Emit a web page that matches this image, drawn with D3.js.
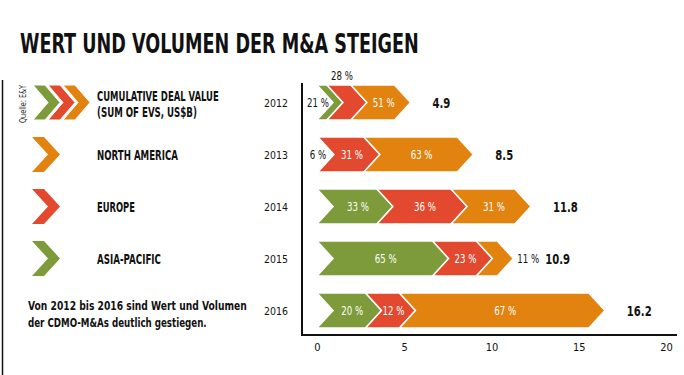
<!DOCTYPE html>
<html><head><meta charset="utf-8">
<script src="https://cdn.jsdelivr.net/npm/d3@7"></script>
<style>
html,body{margin:0;padding:0;background:#fff;}
svg{display:block;}
text{font-family:"DejaVu Sans Condensed","DejaVu Sans",sans-serif;}
</style></head>
<body>
<svg id="chart" width="684" height="375"></svg>
<script>
// ---- data ----
const years = ["2012", "2013", "2014", "2015", "2016"];
const totals = [4.9, 8.5, 11.8, 10.9, 16.2];
const asiaPacific = [21, 6, 33, 65, 20];
const europe = [28, 31, 36, 23, 12];
const northAmerica = [51, 63, 31, 11, 67];
const seriesNames = ["ASIA-PACIFIC", "EUROPE", "NORTH AMERICA"];
const seriesColors = ["#7d9b3a", "#e3492f", "#e2820f"];
const xTicks = [0, 5, 10, 15, 20];
const titleText = "WERT UND VOLUMEN DER M&A STEIGEN";
const sourceText = "Quelle: E&Y";
const legendTitle = ["CUMULATIVE DEAL VALUE", "(SUM OF EVS, US$B)"];
const noteText = ["Von 2012 bis 2016 sind Wert und Volumen", "der CDMO-M&As deutlich gestiegen."];

const seriesValues = [asiaPacific, europe, northAmerica];

const svg = d3.select("#chart");
const x = d3.scaleLinear().domain([0, 20]).range([317, 666]);
const y = d3.scaleBand().domain(years).range([76.5, 336.5]).paddingInner(0.327).paddingOuter(0.1635);
const bh = y.bandwidth();
const D = 16; // chevron depth

function chevron(back, front, top, h, d) {
  const mid = top + h / 2, bot = top + h;
  return [[back, top], [front, top], [front + d, mid], [front, bot], [back, bot], [back + d, mid]];
}
// condensed text: placed at (px,py), squeezed horizontally by factor f or to width w
function ctext(parent, px, py, str, f, w, rot) {
  const t = parent.append("text").attr("x", 0).attr("y", 0).text(str);
  const L = t.node().getComputedTextLength();
  const k = w != null ? w / L : f;
  t.attr("transform", `translate(${px},${py})` + (rot ? ` rotate(${rot})` : "") + ` scale(${k},1)`);
  return { t, width: L * k };
}

// title
ctext(svg.append("g").attr("font-size", 26).attr("font-weight", "bold").attr("fill", "#111"),
  20, 53, titleText, null, 399);

// left rule
svg.append("line").attr("x1", 2.5).attr("x2", 2.5).attr("y1", 80).attr("y2", 375)
  .attr("stroke", "#111").attr("stroke-width", 1.5);

// source
ctext(svg.append("g").attr("font-size", 9).attr("fill", "#222").attr("text-anchor", "middle"),
  26, 104, sourceText, null, 38, -90);

// legend icons
const iconX = 33;
const g0 = svg.append("g");
[0, 1, 2].forEach(i => {
  const top = y(years[0]);
  g0.append("polygon").attr("points", chevron(iconX + i * 15, iconX + i * 15 + 12, top, bh, 15).map(p => p.join(",")).join(" "))
    .attr("fill", seriesColors[i]).attr("stroke", "#fff").attr("stroke-width", 1);
});
[2, 1, 0].forEach((si, row) => {
  const top = y(years[row + 1]);
  svg.append("polygon").attr("points", chevron(iconX - 1, iconX + 11, top, bh, 16).map(p => p.join(",")).join(" "))
    .attr("fill", seriesColors[si]);
});

// legend texts
const lt = svg.append("g").attr("font-weight", "bold").attr("font-size", 13.5).attr("fill", "#111");
ctext(lt, 97, y(years[0]) + bh / 2 - 2, legendTitle[0], null, 122);
ctext(lt, 97, y(years[0]) + bh / 2 + 14, legendTitle[1], null, 100);
const legendWidths = [64, 38, 81];
[2, 1, 0].forEach((si, row) => {
  ctext(lt, 97, y(years[row + 1]) + bh / 2 + 5.5, seriesNames[si], null, legendWidths[si]);
});
const nt = svg.append("g").attr("font-weight", "bold").attr("font-size", 12.5).attr("fill", "#111");
ctext(nt, 28, y(years[4]) + bh / 2 - 0.5, noteText[0], null, 219);
ctext(nt, 28, y(years[4]) + bh / 2 + 16.5, noteText[1], null, 179);

// year labels
const yl = svg.append("g").attr("font-size", 11).attr("fill", "#111").attr("text-anchor", "end");
years.forEach(d => ctext(yl, 288, y(d) + bh / 2 + 4.5, d, 0.95));

// bars
const barsG = svg.append("g");
years.forEach((yr, bi) => {
  const total = totals[bi];
  const top = y(yr);
  const mid = top + bh / 2;
  let cum = 0;
  const segs = [];
  seriesValues.forEach((vals, si) => {
    const pct = vals[bi];
    const v = total * pct / 100;
    const c0 = cum, c1 = cum + v;
    cum = c1;
    const back = si === 0 ? x(0) : x(c0) - D / 2;
    const front = x(c1) - D / 2;
    segs.push({ si, pct, back, front, w: x(c1) - x(c0) });
  });
  segs.forEach(s => {
    barsG.append("polygon")
      .attr("points", chevron(s.back, Math.max(s.front, s.back), top, bh, D).map(p => p.join(",")).join(" "))
      .attr("fill", seriesColors[s.si]).attr("stroke", "#fff").attr("stroke-width", 1.5)
      .attr("stroke-linejoin", "miter");
  });
  const tipX = segs[segs.length - 1].front + D;
  let labelEnd = tipX + 22;
  segs.forEach((s, k) => {
    const lbl = s.pct + " %";
    if (s.w >= 30) {
      const g = barsG.append("g").attr("font-size", 12).attr("fill", "#fff").attr("text-anchor", "middle");
      ctext(g, (s.back + s.front + D) / 2 + 3, mid + 4.5, lbl, 0.8);
    } else if (k === 0) {
      const g = barsG.append("g").attr("font-size", 12).attr("fill", "#111").attr("text-anchor", "middle");
      ctext(g, x(0) + 1, mid + 4.5, lbl, 0.8);
    } else if (k === segs.length - 1) {
      const g = barsG.append("g").attr("font-size", 12).attr("fill", "#111");
      const r = ctext(g, tipX + 4, mid + 4.5, lbl, 0.8);
      labelEnd = tipX + 4 + r.width + 6;
    } else {
      const g = barsG.append("g").attr("font-size", 12).attr("fill", "#111").attr("text-anchor", "middle");
      ctext(g, (s.back + s.front + D) / 2 - 5, top - 5, lbl, 0.8);
    }
  });
  const tg = barsG.append("g").attr("font-size", 14).attr("font-weight", "bold").attr("fill", "#111");
  ctext(tg, labelEnd, mid + 5, total.toFixed(1), 0.8);
});

// axes
svg.append("line").attr("x1", 302).attr("x2", 302).attr("y1", 83).attr("y2", 336)
  .attr("stroke", "#111").attr("stroke-width", 2);
svg.append("line").attr("x1", 301).attr("x2", 677).attr("y1", 335).attr("y2", 335)
  .attr("stroke", "#111").attr("stroke-width", 2);
const ax = svg.append("g").attr("transform", "translate(0,335)")
  .call(d3.axisBottom(x).tickValues(xTicks).tickSize(0).tickPadding(8).tickFormat(d3.format("d")));
ax.select(".domain").remove();
ax.selectAll("text").attr("font-size", 11).attr("fill", "#111")
  .attr("font-family", "\"DejaVu Sans Condensed\",sans-serif");
</script>
</body></html>
